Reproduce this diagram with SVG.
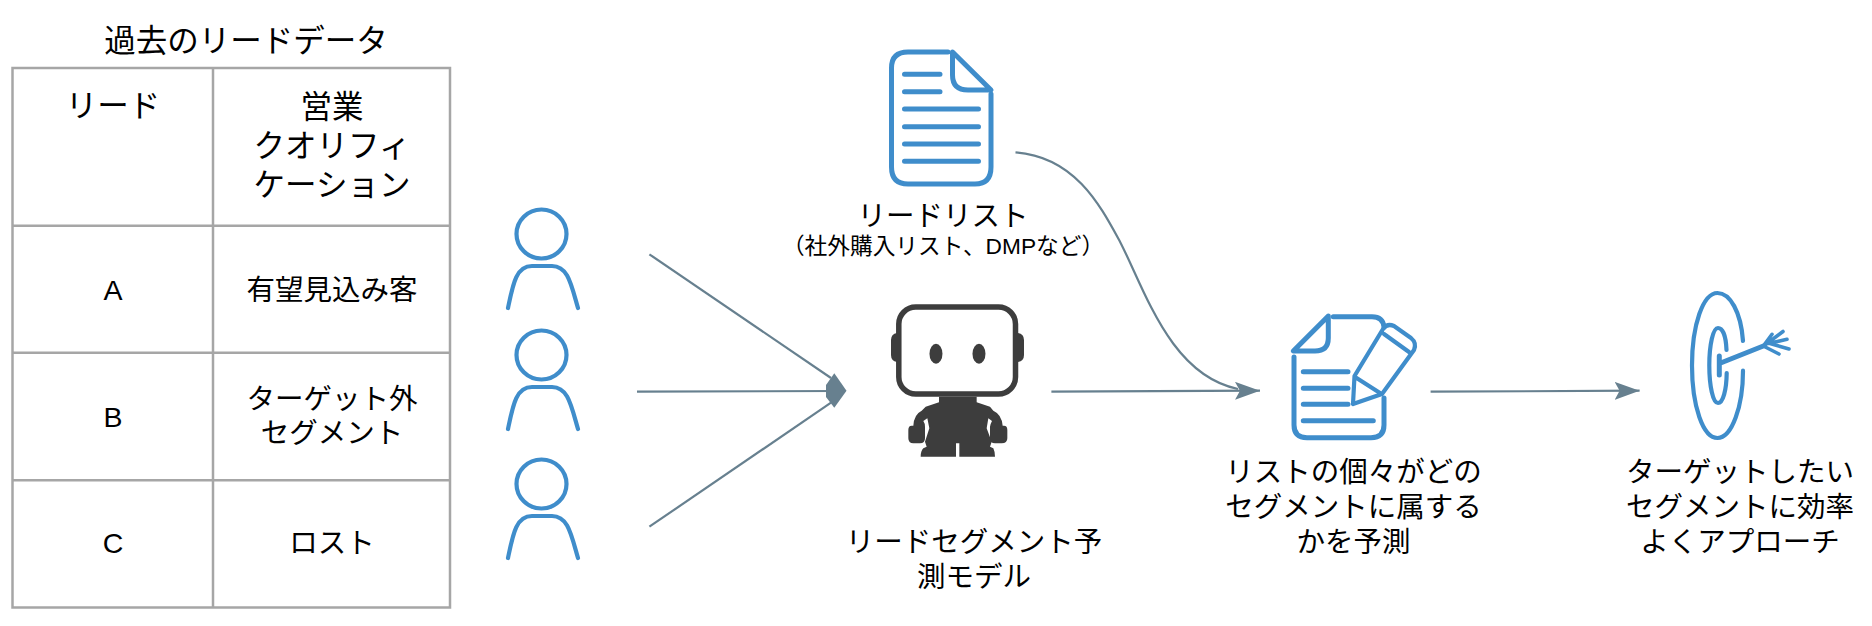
<svg xmlns="http://www.w3.org/2000/svg" width="1872" height="626" viewBox="0 0 1872 626">
<style>
text{font-family:"Liberation Sans","Noto Sans CJK JP",sans-serif;font-size:28.5px;fill:#000;text-anchor:middle}
.sub{font-size:22.7px}
.title{font-size:31.5px}
.grid{fill:none;stroke:#a6a6a6;stroke-width:2.5}
.ico{fill:none;stroke:#3f8dcb;stroke-width:5;stroke-linecap:round;stroke-linejoin:round}
.thin{stroke-width:4.2}
.con{fill:none;stroke:#67808f;stroke-width:2.2}
.bot{fill:#3d3d3d}
</style>
<defs>
<marker id="tri" markerUnits="userSpaceOnUse" markerWidth="28" markerHeight="20" refX="25" refY="9" orient="auto"><path d="M0 0L25 9L0 18L5 9Z" fill="#67808f"/></marker>
<g id="person"><ellipse cx="541.500" cy="0" rx="25" ry="24.5" class="ico thin"/><path d="M508 74C513 50 516 32 532 32H552C568 32 571 50 578 74" class="ico thin"/></g>
</defs>
<rect width="1872" height="626" fill="#fff"/>
<g id="table">
<text x="246" y="52" class="title">過去のリードデータ</text>
<path class="grid" d="M12.5 68H450V607.5H12.5ZM213 68V607.5M12.5 225.700H450M12.5 352.700H450M12.5 480.300H450"/>
<text x="113" y="117" class="title">リード</text>
<text x="332" y="118" class="title">営業</text>
<text x="332" y="157" class="title">クオリフィ</text>
<text x="332" y="196" class="title">ケーション</text>
<text x="113" y="300">A</text>
<text x="332" y="300">有望見込み客</text>
<text x="113" y="427">B</text>
<text x="332" y="409">ターゲット外</text>
<text x="332" y="443">セグメント</text>
<text x="113" y="553">C</text>
<text x="332" y="553">ロスト</text>
</g>
<g id="person1"><use href="#person" y="234"/></g>
<g id="person2"><use href="#person" y="355"/></g>
<g id="person3"><use href="#person" y="484"/></g>
<g id="doc">
<path class="ico" d="M948 52H908Q891.5 52 891.5 68V167Q891.5 184 908 184H975Q991 184 991 167V94"/>
<path class="ico" d="M952.500 52L991 90H968Q952.500 90 952.500 75Z"/>
<path class="ico" d="M904.500 74.300H940M904.500 91.700H940M904.500 109H978.500M904.500 126.700H978.500M904.500 144H978.500M904.500 161.300H978.500"/>
<text x="943" y="226">リードリスト</text>
<text x="943" y="254" class="sub">（社外購入リスト、DMPなど）</text>
</g>
<g id="robot">
<rect x="898.800" y="307" width="116.700" height="87" rx="17" fill="none" stroke="#3d3d3d" stroke-width="5.5"/>
<path class="bot" d="M897 333V362Q891 361 891 355V340Q891 334 897 333ZM1018 333V362Q1024 361 1024 355V340Q1024 334 1018 333Z"/>
<ellipse class="bot" cx="936" cy="353.700" rx="6.500" ry="10"/>
<ellipse class="bot" cx="979" cy="353.700" rx="6.500" ry="10"/>
<path class="bot" transform="translate(880 295) scale(.33333)" d="M177 305H290V322L330 335L340 347Q365 358 368 392H372Q382 392 382 405V430Q382 445 365 445H345Q330 445 330 430V395Q332 385 336 378L325 370L320 400L335 440L330 455L340 460Q345 470 345 485H238V445H228V485H122Q122 468 130 460L140 455L135 440L148 400L142 370L130 378Q135 385 135 395V430Q135 445 120 445H100Q85 445 85 430V405Q85 392 95 392H100Q102 358 125 347L137 335L177 322Z"/>
<text x="974" y="552">リードセグメント予</text>
<text x="974" y="587">測モデル</text>
</g>
<g id="listedit">
<path class="ico" d="M1328.300 316L1293.300 351H1315Q1328.300 351 1328.300 338Z"/>
<path class="ico" d="M1333.300 316.700H1372Q1383 316.700 1384 327M1294 357V425Q1294 437.700 1307 437.700H1371Q1384 437.700 1384 425V398"/>
<path class="ico" d="M1303.300 371.700H1348M1303.300 388.300H1348M1303.300 404.300H1348M1303.300 420.700H1373.300"/>
<path class="ico thin" d="M1353 404L1354.500 376L1383 329Q1387 323 1394 326L1411 338Q1417 343 1414 350L1382 394ZM1384 334L1409 352M1355 377L1380 393"/>
<text x="1353.600" y="482">リストの個々がどの</text>
<text x="1353.600" y="517">セグメントに属する</text>
<text x="1353.600" y="552">かを予測</text>
</g>
<g id="target">
<path class="ico thin" d="M1743 341C1741 312 1730 293 1717.500 293C1703 293 1692 325 1692 365.500C1692 406 1703 438 1717.500 438C1732 438 1743 406 1743 370.700"/>
<path class="ico thin" d="M1726.500 350C1726 337 1723 328 1718 328C1713 328 1709.300 345 1709.300 365.500C1709.300 386 1713 403 1718 403C1723 403 1726.500 390 1726.700 373"/>
<path class="ico" d="M1719.300 356V375M1720 363.300L1763.300 346"/>
<path class="ico" style="stroke-width:3.600" d="M1763.300 346L1772 334.300M1765 345L1783 331.500M1769 343.500L1787 339.300M1770 343.500L1789 349M1763.300 346L1779 354"/>
<text x="1740" y="482">ターゲットしたい</text>
<text x="1740" y="517">セグメントに効率</text>
<text x="1740" y="552">よくアプローチ</text>
</g>
<g id="connectors">
<path class="con" d="M649.400 254.300L831 378"/>
<path class="con" d="M637 391.700L840 391"/>
<path class="con" d="M649.400 526.700L831 402.700"/>
<path d="M846.500 390.700L834.300 373.300L826 385V397L834.300 407.700Z" fill="#67808f"/>
<path class="con" d="M1015.500 152.300C1075 157 1100 205 1120 241.700C1145 290 1170 375 1238 389"/>
<path class="con" marker-end="url(#tri)" d="M1051.400 391.700L1260 390.700"/>
<path class="con" marker-end="url(#tri)" d="M1430.600 391.700L1639.600 390.700"/>
</g>
</svg>
